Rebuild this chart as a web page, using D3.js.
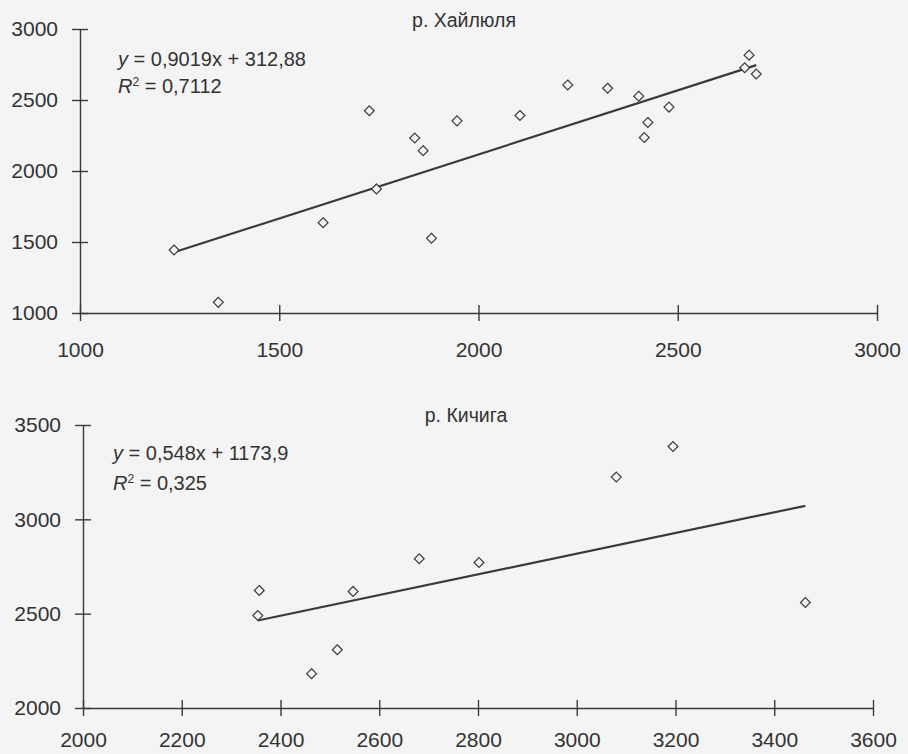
<!DOCTYPE html>
<html>
<head>
<meta charset="utf-8">
<script src="https://cdn.jsdelivr.net/npm/d3@7"></script>
<style>
  body { margin: 0; background: #f4f4f4; }
  svg { display: block; }
  text { font-family: "Liberation Sans", Arial, sans-serif; fill: #333; }
</style>
</head>
<body>
<script>
// р. Хайлюля
var haiX = [1236, 1347, 1610, 1726, 1744, 1840, 1861, 1882, 1946, 2104,
            2224, 2324, 2402, 2416, 2425, 2478, 2668, 2679, 2697];
var haiY = [1444, 1075, 1636, 2424, 1874, 2232, 2143, 1526, 2353, 2391,
            2606, 2583, 2527, 2236, 2342, 2450, 2727, 2816, 2683];
var haiFit = {slope: 0.9019, intercept: 312.88, eq: "0,9019x + 312,88", r2: "0,7112"};
var haiXTicks = [1000, 1500, 2000, 2500, 3000];
var haiYTicks = [1000, 1500, 2000, 2500, 3000];

// р. Кичига
var kichX = [2354, 2357, 2463, 2515, 2547, 2681, 2802, 3080, 3195, 3463];
var kichY = [2490, 2623, 2182, 2309, 2618, 2791, 2771, 3224, 3386, 2559];
var kichFit = {slope: 0.548, intercept: 1173.9, eq: "0,548x + 1173,9", r2: "0,325"};
var kichXTicks = [2000, 2200, 2400, 2600, 2800, 3000, 3200, 3400, 3600];
var kichYTicks = [2000, 2500, 3000, 3500];

var width = 908, height = 754;
var ink = "#3a3a3a";

var svg = d3.select("body")
    .append("svg")
    .attr("width", width)
    .attr("height", height);

function drawPanel(p) {
    var x = d3.scaleLinear().domain(d3.extent(p.xTicks)).range([p.left, p.right]);
    var y = d3.scaleLinear().domain(d3.extent(p.yTicks)).range([p.bottom, p.top]);
    var g = svg.append("g");

    var xAxis = g.append("g")
        .attr("transform", "translate(0," + p.bottom + ")")
        .call(d3.axisBottom(x).tickValues(p.xTicks).tickSizeInner(8).tickSizeOuter(0).tickFormat(d3.format("d")));
    xAxis.selectAll(".tick line").attr("y1", -8);
    xAxis.selectAll(".tick text").attr("y", p.labelGap).attr("dy", "0.71em");

    var yAxis = g.append("g")
        .attr("transform", "translate(" + p.left + ",0)")
        .call(d3.axisLeft(y).tickValues(p.yTicks).tickSizeInner(8).tickSizeOuter(0).tickFormat(d3.format("d")));
    yAxis.selectAll(".tick line").attr("x1", 8);
    yAxis.selectAll(".tick text").attr("x", -22);

    g.selectAll(".domain, .tick line").attr("stroke", ink).attr("stroke-width", 1.4);
    g.selectAll(".tick text")
        .attr("fill", "#333")
        .style("font-size", "21px")
        .style("font-family", "'Liberation Sans', Arial, sans-serif");

    // trend line over the range of the data
    var x0 = d3.min(p.xs), x1 = d3.max(p.xs);
    g.append("line")
        .attr("x1", x(x0)).attr("y1", y(p.fit.slope * x0 + p.fit.intercept))
        .attr("x2", x(x1)).attr("y2", y(p.fit.slope * x1 + p.fit.intercept))
        .attr("stroke", ink)
        .attr("stroke-width", 2.2);

    g.selectAll(".pt")
        .data(p.xs.map(function(d, i) { return [d, p.ys[i]]; }))
        .enter()
            .append("path")
            .attr("class", "pt")
            .attr("d", d3.symbol().type(d3.symbolDiamond2).size(62))
            .attr("transform", function(d) { return "translate(" + x(d[0]) + "," + y(d[1]) + ")"; })
            .attr("fill", "#f4f4f4")
            .attr("stroke", ink)
            .attr("stroke-width", 1.2);

    g.append("text")
        .attr("x", p.titleX).attr("y", p.titleY)
        .attr("text-anchor", "middle")
        .style("font-size", "19.5px")
        .text(p.title);

    var eq = g.append("text")
        .attr("x", p.eqX).attr("y", p.eqY)
        .style("font-size", "20px");
    eq.append("tspan").style("font-style", "italic").text("y");
    eq.append("tspan").text(" = " + p.fit.eq);

    var r2 = g.append("text")
        .attr("x", p.eqX).attr("y", p.eqY + p.eqGap)
        .style("font-size", "20px");
    r2.append("tspan").style("font-style", "italic").text("R");
    r2.append("tspan").attr("dy", -7).style("font-size", "12px").text("2");
    r2.append("tspan").attr("dy", 7).text(" = " + p.fit.r2);
}

drawPanel({
    xs: haiX, ys: haiY, fit: haiFit, xTicks: haiXTicks, yTicks: haiYTicks,
    left: 80, right: 877, top: 29, bottom: 313, labelGap: 29,
    title: "р. Хайлюля", titleX: 464, titleY: 27,
    eqX: 118, eqY: 66, eqGap: 27
});

drawPanel({
    xs: kichX, ys: kichY, fit: kichFit, xTicks: kichXTicks, yTicks: kichYTicks,
    left: 83, right: 873, top: 425, bottom: 708, labelGap: 24,
    title: "р. Кичига", titleX: 466, titleY: 422,
    eqX: 113, eqY: 460, eqGap: 30
});
</script>
</body>
</html>
